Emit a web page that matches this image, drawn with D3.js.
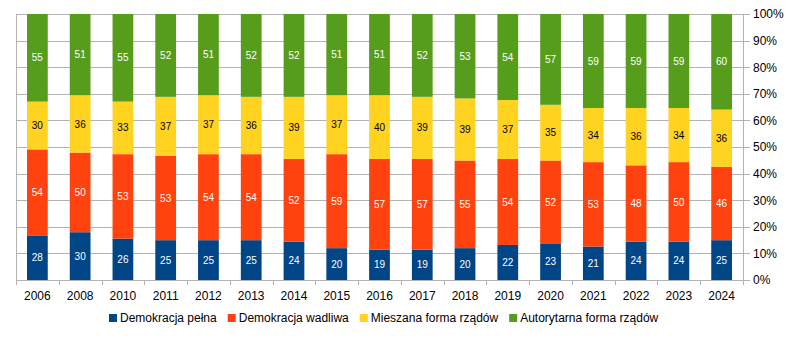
<!DOCTYPE html>
<html>
<head>
<meta charset="utf-8">
<script src="https://cdn.jsdelivr.net/npm/d3@7"></script>
<style>
  body { margin: 0; background: #fff; }
  svg text { font-family: "Liberation Sans", Arial, sans-serif; }
</style>
</head>
<body>
<div id="canvas"></div>
<script>
// years and the four regime types (counts of countries)
var years = ['2006','2008','2010','2011','2012','2013','2014','2015','2016','2017','2018','2019','2020','2021','2022','2023','2024'];
var seriesNames = ['Demokracja pełna','Demokracja wadliwa','Mieszana forma rządów','Autorytarna forma rządów'];
var pelna     = [28,30,26,25,25,25,24,20,19,19,20,22,23,21,24,24,25];
var wadliwa   = [54,50,53,53,54,54,52,59,57,57,55,54,52,53,48,50,46];
var mieszana  = [30,36,33,37,37,36,39,37,40,39,39,37,35,34,36,34,36];
var autorytar = [55,51,55,52,51,52,52,51,51,52,53,54,57,59,59,59,60];
var colors = ['#004586','#ff420e','#ffd320','#579d1c'];
var textColors = ['#fff','#fff','#000','#fff'];
var yTicks = [0,0.1,0.2,0.3,0.4,0.5,0.6,0.7,0.8,0.9,1];

var W = 800, H = 338;
var m = {t:14, r:57, b:58, l:16};
var w = W - m.l - m.r, h = H - m.t - m.b;

var svg = d3.select('#canvas').append('svg')
    .attr('width', W).attr('height', H);
var plot = svg.append('g')
    .attr('transform', 'translate(' + m.l + ',' + m.t + ')');

var table = years.map(function(y, i){
    return {year:y, s0:pelna[i], s1:wadliwa[i], s2:mieszana[i], s3:autorytar[i]};
});
var keys = ['s0','s1','s2','s3'];
var stacked = d3.stack().keys(keys).offset(d3.stackOffsetExpand)(table);

var x = d3.scaleBand().domain(years).range([0, w]).paddingInner(0).paddingOuter(0);
var y = d3.scaleLinear().domain([0, 1]).range([h, 0]);

// grid lines + right axis ticks
plot.selectAll('.grid').data(yTicks).enter().append('line')
    .attr('x1', 0).attr('x2', w + 7)
    .attr('y1', function(d){ return Math.round(y(d)) + 0.5; })
    .attr('y2', function(d){ return Math.round(y(d)) + 0.5; })
    .attr('stroke', '#b3b3b3').attr('stroke-width', 1);

plot.append('line').attr('x1', 0.5).attr('x2', 0.5).attr('y1', 0).attr('y2', h)
    .attr('stroke', '#b3b3b3');
plot.append('line').attr('x1', w + 0.5).attr('x2', w + 0.5).attr('y1', 0).attr('y2', h + 5)
    .attr('stroke', '#b3b3b3');

plot.selectAll('.ylab').data(yTicks).enter().append('text')
    .attr('x', w + 10).attr('y', function(d){ return y(d); })
    .attr('dy', '0.36em').attr('font-size', 12).attr('fill', '#000')
    .text(function(d){ return Math.round(d * 100) + '%'; });

// x axis ticks at band boundaries
var bounds = years.map(function(d){ return x(d); }).concat([w]);
plot.selectAll('.xt').data(bounds).enter().append('line')
    .attr('x1', function(d){ return Math.round(d) + 0.5; })
    .attr('x2', function(d){ return Math.round(d) + 0.5; })
    .attr('y1', h).attr('y2', h + 5)
    .attr('stroke', '#b3b3b3');

plot.selectAll('.xlab').data(years).enter().append('text')
    .attr('x', function(d){ return x(d) + x.bandwidth() / 2; })
    .attr('y', h + 20).attr('text-anchor', 'middle')
    .attr('font-size', 12).attr('fill', '#000')
    .text(function(d){ return d; });

// bars
var barW = x.bandwidth() * 0.485;
var layers = plot.selectAll('.layer').data(stacked).enter().append('g')
    .attr('fill', function(d, i){ return colors[i]; });

layers.selectAll('rect').data(function(d){ return d; }).enter().append('rect')
    .attr('x', function(d){ return x(d.data.year) + (x.bandwidth() - barW) / 2; })
    .attr('width', barW)
    .attr('y', function(d){ return y(d[1]); })
    .attr('height', function(d){ return y(d[0]) - y(d[1]); });

stacked.forEach(function(layer, i){
    plot.selectAll('.lbl' + i).data(layer).enter().append('text')
        .attr('x', function(d){ return x(d.data.year) + x.bandwidth() / 2; })
        .attr('y', function(d){ return (y(d[0]) + y(d[1])) / 2; })
        .attr('dy', '0.36em').attr('text-anchor', 'middle')
        .attr('font-size', 10).attr('fill', textColors[i])
        .text(function(d){ return d.data[keys[i]]; });
});

// legend, centered under the plot
var legend = svg.append('g');
var lx = 0, gap = 11;
seriesNames.forEach(function(name, i){
    var g = legend.append('g').attr('transform', 'translate(' + lx + ',0)');
    g.append('rect').attr('x', 0).attr('y', -4).attr('width', 8).attr('height', 8)
        .attr('fill', colors[i]);
    var t = g.append('text').attr('x', 11).attr('y', 0).attr('dy', '0.36em')
        .attr('font-size', 12).attr('fill', '#000').text(name);
    lx += 11 + t.node().getComputedTextLength() + gap;
});
var lw = lx - gap;
legend.attr('transform', 'translate(' + 109 + ',' + 318 + ')');
</script>
</body>
</html>
